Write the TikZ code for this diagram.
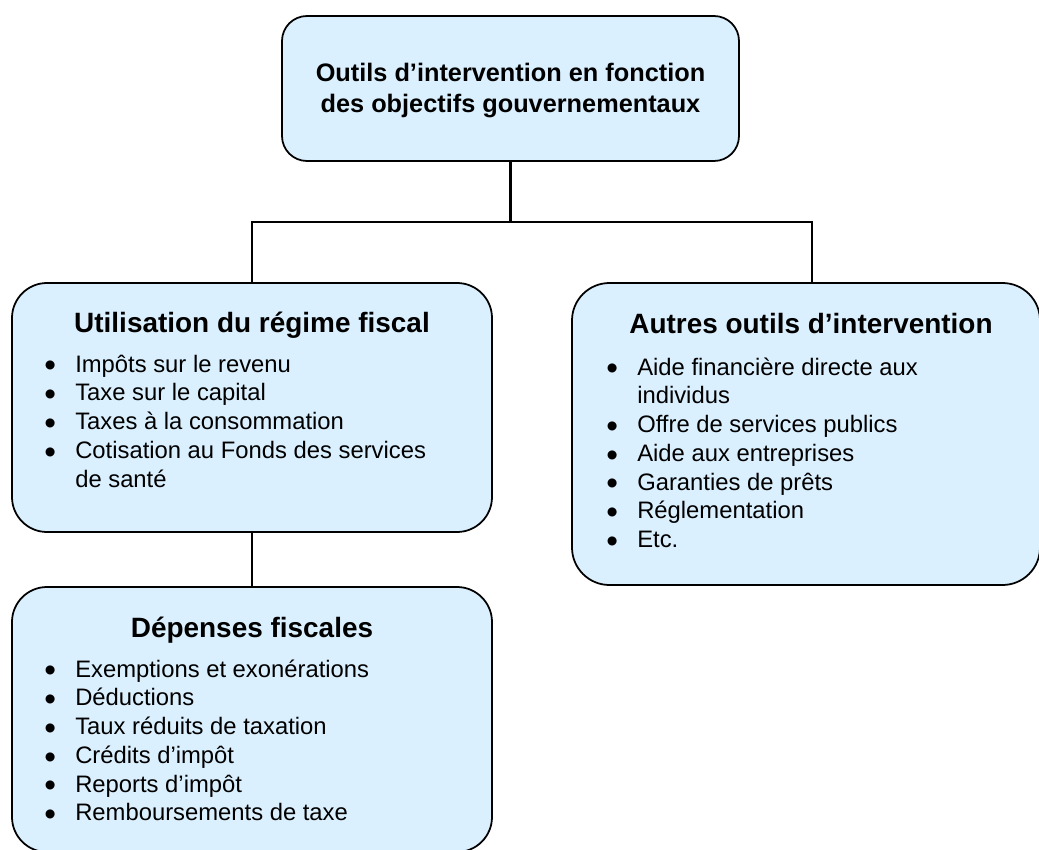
\documentclass[tikz,border=0pt]{standalone}
\usepackage{fontspec}
\setmainfont{Liberation Sans}
\definecolor{boxblue}{RGB}{219,240,254}
\newcommand{\bul}{\smash{\raisebox{-0.2em}{\scalebox{1.4}{\textbullet}}}}
\begin{document}
\begin{tikzpicture}[
  box/.style={draw,line width=1pt,fill=boxblue,inner sep=0pt,outer sep=0pt},
  head/.style={anchor=base,inner sep=0pt,font=\fontsize{15.9}{19}\selectfont\bfseries},
  items/.style={anchor=base west,inner sep=0pt,font=\fontsize{13.55}{16.38}\selectfont},
  link/.style={line width=1.5pt}
]
\useasboundingbox (0,0) rectangle (20.78,-17);
\node[box,rounded corners=0.5cm,minimum width=9.14cm,minimum height=2.9cm] (top) at (10.21,-1.77) {};
\node[align=center,inner sep=0pt,font=\fontsize{14.4}{17.64}\selectfont\bfseries] (ttl) at (10.21,-1.82) {Outils d’intervention en fonction\\des objectifs gouvernementaux};
\node[box,rounded corners=0.7cm,minimum width=9.6cm,minimum height=4.98cm] (fis) at (5.04,-8.15) {};
\node[head] (fish) at (5.04,-6.64) {Utilisation du régime fiscal};
\node[items] (fisl) at (0.882,-7.44) {\begin{tabular}[t]{@{}l@{\hspace{10.9pt}}l@{}}
\bul & Impôts sur le revenu\\
\bul & Taxe sur le capital\\
\bul & Taxes à la consommation\\
\bul & Cotisation au Fonds des services\\
 & de santé
\end{tabular}};
\node[box,rounded corners=0.75cm,minimum width=9.36cm,minimum height=6.04cm] (aut) at (16.12,-8.68) {};
\node[head] (auth) at (16.22,-6.66) {Autres outils d’intervention};
\node[items] (autl) at (12.122,-7.50) {\begin{tabular}[t]{@{}l@{\hspace{10.9pt}}l@{}}
\bul & Aide financière directe aux\\
 & individus\\
\bul & Offre de services publics\\
\bul & Aide aux entreprises\\
\bul & Garanties de prêts\\
\bul & Réglementation\\
\bul & Etc.
\end{tabular}};
\node[box,rounded corners=0.7cm,minimum width=9.6cm,minimum height=5.3cm] (dep) at (5.04,-14.39) {};
\node[head] (deph) at (5.04,-12.74) {Dépenses fiscales};
\node[items] (depl) at (0.882,-13.54) {\begin{tabular}[t]{@{}l@{\hspace{10.9pt}}l@{}}
\bul & Exemptions et exonérations\\
\bul & Déductions\\
\bul & Taux réduits de taxation\\
\bul & Crédits d’impôt\\
\bul & Reports d’impôt\\
\bul & Remboursements de taxe
\end{tabular}};
\coordinate (J) at (10.21,-4.44);
\draw[link] (top) -- (J);
\draw[link] (fis) |- (J) -| ([xshift=3.4pt]aut.north);
\draw[link] (fis) -- (dep);
\end{tikzpicture}
\end{document}
